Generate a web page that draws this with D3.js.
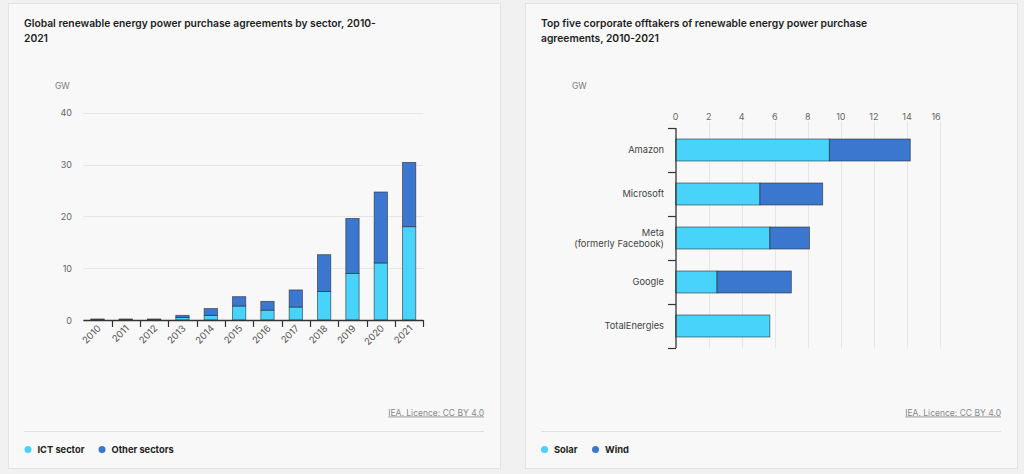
<!DOCTYPE html>
<html><head><meta charset="utf-8">
<script src="https://cdn.jsdelivr.net/npm/d3@7"></script>
<style>
html,body{margin:0;padding:0;background:#f1f1f1;}
svg{display:block;font-family:Inter,"Noto Sans",sans-serif;}
</style></head>
<body>
<svg id="c" width="1024" height="474"></svg>
<script>
// ---- data ----
const years = ["2010","2011","2012","2013","2014","2015","2016","2017","2018","2019","2020","2021"];
const ictValues = [0.1,0.1,0.1,0.5,0.9,2.7,1.9,2.5,5.5,9.0,11.0,18.0];
const otherValues = [0.1,0.1,0.1,0.4,1.3,1.8,1.7,3.3,7.1,10.6,13.7,12.4];
const leftTicks = [0,10,20,30,40];

const companies = ["Amazon","Microsoft","Meta\n(formerly Facebook)","Google","TotalEnergies"];
const solarValues = [9.3,5.1,5.7,2.5,5.7];
const windValues = [4.9,3.8,2.4,4.5,0];
const rightTicks = [0,2,4,6,8,10,12,14,16];

const leftTitle = ["Global renewable energy power purchase agreements by sector, 2010-","2021"];
const rightTitle = ["Top five corporate offtakers of renewable energy power purchase","agreements, 2010-2021"];
const leftLegend = ["ICT sector","Other sectors"];
const rightLegend = ["Solar","Wind"];
const unitLabel = "GW";
const sourceLabel = "IEA. Licence: CC BY 4.0";

const cLight = "#48d3fb", cDark = "#3b77cf";
const svg = d3.select("#c");

// cards
function card(x){
  svg.append("rect").attr("x",x+0.5).attr("y",3.5).attr("width",492).attr("height",465)
    .attr("fill","#f8f8f8").attr("stroke","#e3e3e3");
}
card(8); card(525);

function titleBlock(x, lines){
  const t = svg.append("text").attr("x",x).attr("y",27).attr("font-size",10.3).attr("font-weight",600).attr("fill","#1e1e1e");
  lines.forEach((l,i)=>t.append("tspan").attr("x",x).attr("dy",i?15:0).text(l));
}
titleBlock(24,leftTitle);
titleBlock(541,rightTitle);

svg.append("text").attr("x",55).attr("y",89).attr("font-size",8.5).attr("fill","#777").text(unitLabel);
svg.append("text").attr("x",572).attr("y",89).attr("font-size",8.5).attr("fill","#777").text(unitLabel);

// footers & legends
function footer(xr, xl, items, offsets){
  svg.append("text").attr("x",xr).attr("y",415.5).attr("text-anchor","end").attr("font-size",8.5)
    .attr("fill","#8a8a8a").attr("text-decoration","underline").text(sourceLabel);
  svg.append("line").attr("x1",xl).attr("x2",xr).attr("y1",431.5).attr("y2",431.5).attr("stroke","#e0e0e0");
  items.forEach((it,i)=>{
    const x = xl+offsets[i];
    svg.append("circle").attr("cx",x).attr("cy",449.5).attr("r",3.5).attr("fill",i?cDark:cLight);
    svg.append("text").attr("x",x+9.5).attr("y",452.8).attr("font-size",9.3).attr("font-weight",700)
      .attr("fill","#222").text(it);
  });
}
footer(484,24,leftLegend,[4,78]);
footer(1001,541,rightLegend,[3.5,54.5]);

// ---- left chart ----
const xL = d3.scaleBand().domain(years).range([83.3,423.3]).paddingInner(0.53).paddingOuter(0.265);
const yL = d3.scaleLinear().domain([0,40]).range([320,112.7]);
const gL = svg.append("g");
gL.selectAll("line.grid").data(leftTicks.filter(d=>d>0)).join("line")
  .attr("x1",83.3).attr("x2",423.3).attr("y1",d=>Math.round(yL(d))+0.5).attr("y2",d=>Math.round(yL(d))+0.5)
  .attr("stroke","#e6e6e6");
gL.selectAll("text.yl").data(leftTicks).join("text")
  .attr("x",72).attr("y",d=>yL(d)+3.5).attr("text-anchor","end").attr("font-size",9).attr("fill","#666").text(d=>d);

const stacked = years.map((y,i)=>({y, ict:ictValues[i], other:otherValues[i]}));
const stackL = d3.stack().keys(["ict","other"])(stacked);
stackL.forEach((s,k)=>{
  gL.selectAll(null).data(s).join("rect")
    .attr("x",d=>xL(d.data.y)).attr("width",xL.bandwidth())
    .attr("y",d=>yL(d[1])).attr("height",d=>Math.max(0,yL(d[0])-yL(d[1])))
    .attr("fill",k?cDark:cLight).attr("stroke","rgba(40,40,40,0.7)").attr("stroke-width",0.8);
});
const axL = gL.append("g").attr("transform","translate(0,320)");
axL.append("line").attr("x1",83.3).attr("x2",423.3).attr("y1",0.5).attr("y2",0.5).attr("stroke","#333").attr("stroke-width",1.3);
axL.selectAll("line.tk").data(years).join("line")
  .attr("x1",d=>Math.round(xL(d)+xL.step()*0.735)+0.5).attr("x2",d=>Math.round(xL(d)+xL.step()*0.735)+0.5)
  .attr("y1",0).attr("y2",7).attr("stroke","#333").attr("stroke-width",1.2);
axL.selectAll("text").data(years).join("text")
  .attr("transform",d=>`translate(${xL(d)+xL.bandwidth()/2+4},${9}) rotate(-45)`)
  .attr("text-anchor","end").attr("font-size",9.5).attr("fill","#555").text(d=>d);

// ---- right chart ----
const xR = d3.scaleLinear().domain([0,16]).range([675.7,940]);
const yR = d3.scaleBand().domain(companies).range([128,348]).paddingInner(0.5).paddingOuter(0.25);
const gR = svg.append("g");
gR.selectAll("line.grid").data(rightTicks.filter(d=>d>0)).join("line")
  .attr("x1",d=>Math.round(xR(d))+0.5).attr("x2",d=>Math.round(xR(d))+0.5).attr("y1",128).attr("y2",348)
  .attr("stroke","#e6e6e6");
gR.selectAll("line.tt").data(rightTicks.filter(d=>d>0)).join("line")
  .attr("x1",d=>Math.round(xR(d))+0.5).attr("x2",d=>Math.round(xR(d))+0.5).attr("y1",121).attr("y2",128)
  .attr("stroke","#e6e6e6");
gR.selectAll("text.xl").data(rightTicks).join("text")
  .attr("x",(d,i)=>xR(d)-(i===rightTicks.length-1?4:0)).attr("y",120).attr("text-anchor","middle")
  .attr("font-size",9).attr("fill","#666").text(d=>d);

const rows = companies.map((c,i)=>({c, solar:solarValues[i], wind:windValues[i]}));
const stackR = d3.stack().keys(["solar","wind"])(rows);
stackR.forEach((s,k)=>{
  gR.selectAll(null).data(s.filter(d=>d[1]-d[0]>0)).join("rect")
    .attr("y",d=>yR(d.data.c)).attr("height",yR.bandwidth())
    .attr("x",d=>xR(d[0])).attr("width",d=>xR(d[1])-xR(d[0]))
    .attr("fill",k?cDark:cLight).attr("stroke","rgba(40,40,40,0.7)").attr("stroke-width",0.8);
});
gR.append("line").attr("x1",676).attr("x2",676).attr("y1",128).attr("y2",348).attr("stroke","#333").attr("stroke-width",1.3);
const bounds = [128].concat(companies.map(c=>yR(c)+yR.bandwidth()+yR.step()*0.25));
gR.selectAll("line.ytk").data(bounds).join("line")
  .attr("x1",668).attr("x2",676).attr("y1",d=>Math.round(d)+0.5).attr("y2",d=>Math.round(d)+0.5)
  .attr("stroke","#333").attr("stroke-width",1.2);
companies.forEach(c=>{
  const lines = c.split("\n");
  const cy = yR(c)+yR.bandwidth()/2;
  const t = gR.append("text").attr("x",664).attr("text-anchor","end").attr("font-size",9.3).attr("fill","#444");
  lines.forEach((l,i)=>t.append("tspan").attr("x",664).attr("y",cy+3.3+(i-(lines.length-1)/2)*11.5).text(l));
});
</script>
</body></html>
